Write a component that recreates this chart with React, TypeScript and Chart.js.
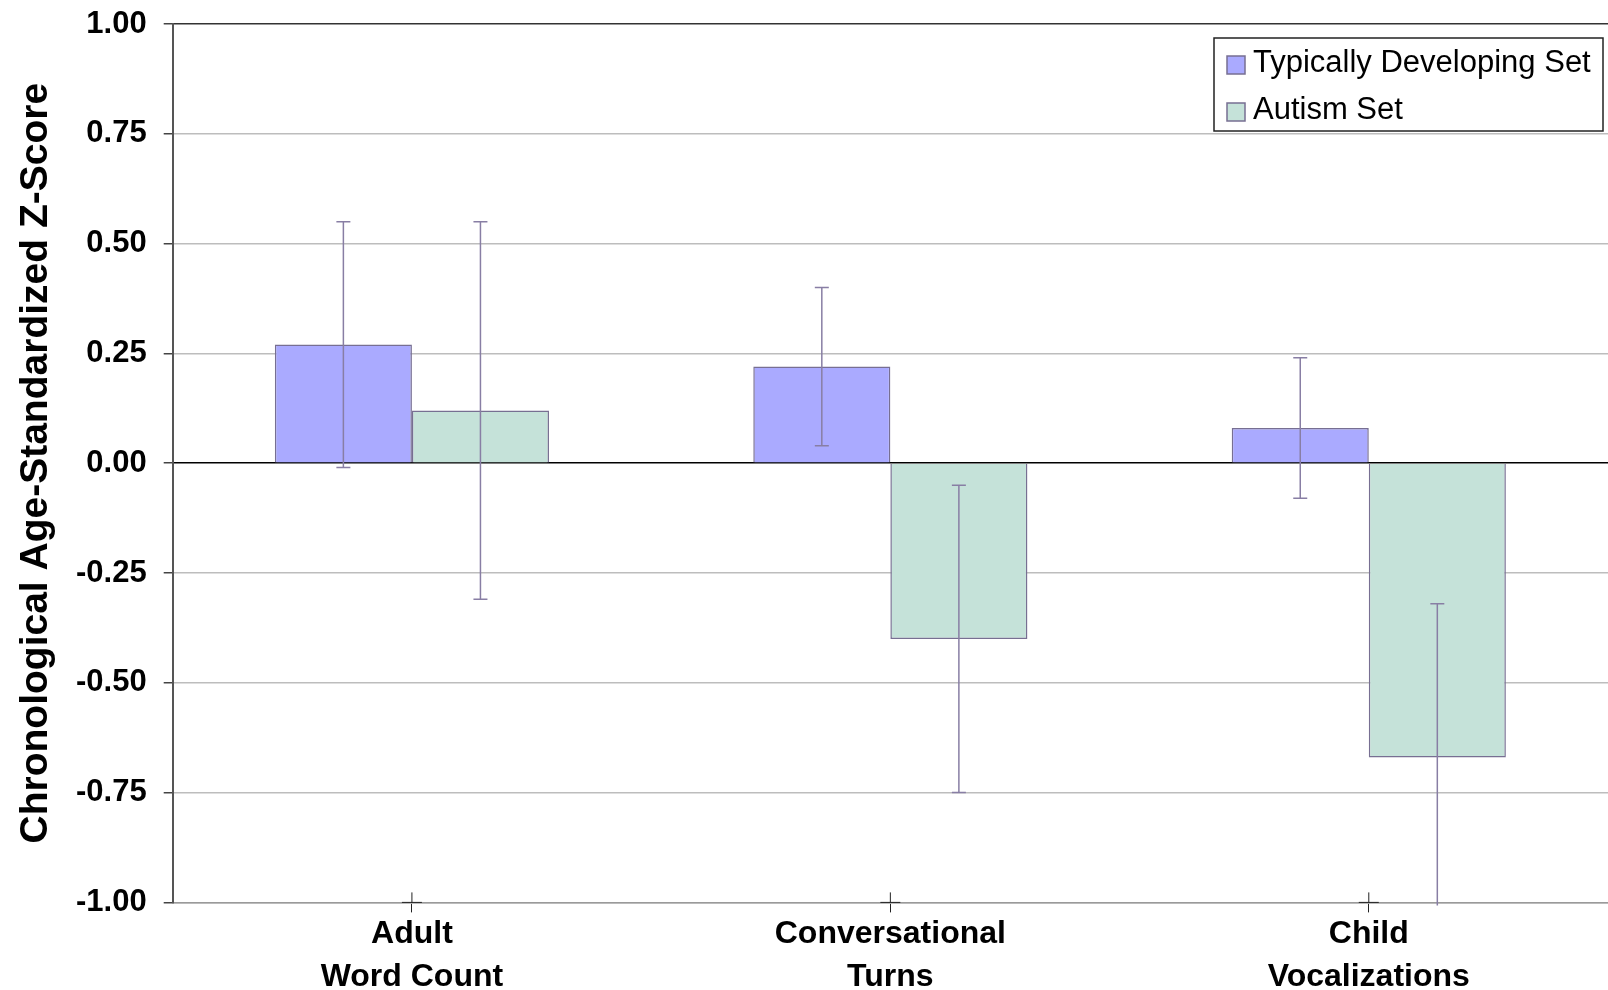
import React, { useEffect, useRef } from "react";
import { Chart, registerables } from "chart.js";

Chart.register(...registerables);

const categories = [
  ["Adult", "Word Count"],
  ["Conversational", "Turns"],
  ["Child", "Vocalizations"],
];
const seriesLabels = ["Typically Developing Set", "Autism Set"];
const tdValues = [0.27, 0.22, 0.08];
const tdErrors = [0.28, 0.18, 0.16];
const autismValues = [0.12, -0.4, -0.67];
const autismErrors = [0.43, 0.35, 0.35];
const yTickValues = [-1, -0.75, -0.5, -0.25, 0, 0.25, 0.5, 0.75, 1];
const yTitle = "Chronological Age-Standardized Z-Score";

const FONT = "'Liberation Sans', Arial, Helvetica, sans-serif";
const TD_FILL = "#AAAAFF";
const AUT_FILL = "#C5E2D9";
const BAR_BORDER = "#776F92";
const ERR_COLOR = "#887EA4";

const errorBarPlugin = {
  id: "errorBars",
  afterDatasetsDraw(chart: any) {
    const { ctx, chartArea, scales } = chart;
    const y = scales.y;
    ctx.save();
    ctx.beginPath();
    ctx.rect(
      chartArea.left,
      chartArea.top - 2,
      chartArea.right - chartArea.left,
      chartArea.bottom - chartArea.top + 5
    );
    ctx.clip();
    ctx.strokeStyle = ERR_COLOR;
    ctx.lineWidth = 1.5;
    chart.data.datasets.forEach((ds: any, i: number) => {
      const meta = chart.getDatasetMeta(i);
      meta.data.forEach((bar: any, j: number) => {
        const v = ds.data[j];
        const e = ds.errors[j];
        const x = bar.x;
        const yTop = y.getPixelForValue(v + e);
        const yBot = y.getPixelForValue(v - e);
        ctx.beginPath();
        ctx.moveTo(x, yTop);
        ctx.lineTo(x, yBot);
        ctx.moveTo(x - 7, yTop);
        ctx.lineTo(x + 7, yTop);
        ctx.moveTo(x - 7, yBot);
        ctx.lineTo(x + 7, yBot);
        ctx.stroke();
      });
    });
    ctx.restore();
  },
  afterDraw(chart: any) {
    const { ctx, chartArea, scales } = chart;
    const xs = scales.x;
    // cross-shaped category tick marks (upper half + dark horizontal stub)
    ctx.save();
    ctx.strokeStyle = "#222";
    ctx.lineWidth = 1;
    xs.ticks.forEach((_t: any, i: number) => {
      const px = xs.getPixelForTick(i);
      ctx.beginPath();
      ctx.moveTo(px, chartArea.bottom - 10);
      ctx.lineTo(px, chartArea.bottom);
      ctx.moveTo(px - 10, chartArea.bottom);
      ctx.lineTo(px + 10, chartArea.bottom);
      ctx.stroke();
    });
    ctx.restore();

    // boxed legend, top-right inside the plot area
    const boxRight = chartArea.right - 5;
    const boxTop = chartArea.top + 14;
    const boxW = 389;
    const boxH = 93;
    const boxLeft = boxRight - boxW;
    ctx.save();
    ctx.fillStyle = "#FFFFFF";
    ctx.fillRect(boxLeft, boxTop, boxW, boxH);
    ctx.strokeStyle = "#222";
    ctx.lineWidth = 1.5;
    ctx.strokeRect(boxLeft, boxTop, boxW, boxH);
    ctx.font = `31px ${FONT}`;
    ctx.textBaseline = "middle";
    ctx.textAlign = "left";
    chart.data.datasets.forEach((ds: any, i: number) => {
      const cy = boxTop + 27 + i * 47;
      ctx.fillStyle = ds.backgroundColor;
      ctx.fillRect(boxLeft + 13, cy - 9, 18, 18);
      ctx.strokeStyle = BAR_BORDER;
      ctx.lineWidth = 1.5;
      ctx.strokeRect(boxLeft + 13, cy - 9, 18, 18);
      ctx.fillStyle = "#000";
      ctx.fillText(ds.label, boxLeft + 39, cy - 2);
    });
    ctx.restore();
  },
};

export default function App() {
  const ref = useRef<HTMLCanvasElement | null>(null);

  useEffect(() => {
    if (!ref.current) return;
    const chart = new Chart(ref.current, {
      type: "bar",
      data: {
        labels: categories,
        datasets: [
          {
            label: seriesLabels[0],
            data: tdValues,
            errors: tdErrors,
            backgroundColor: TD_FILL,
            borderColor: BAR_BORDER,
            borderWidth: 1.5,
            categoryPercentage: 0.573,
            barPercentage: 1,
          } as any,
          {
            label: seriesLabels[1],
            data: autismValues,
            errors: autismErrors,
            backgroundColor: AUT_FILL,
            borderColor: BAR_BORDER,
            borderWidth: 1.5,
            categoryPercentage: 0.573,
            barPercentage: 1,
          } as any,
        ],
      },
      options: {
        responsive: false,
        animation: false,
        layout: { padding: { top: 24, right: 0, left: 0, bottom: 0 } },
        plugins: {
          legend: { display: false },
          tooltip: { enabled: false },
        },
        scales: {
          x: {
            afterFit(scale: any) {
              scale.height = 87.6;
              scale.paddingLeft = 0;
              scale.paddingRight = 0;
              scale.paddingTop = 0;
              scale.paddingBottom = 0;
            },
            grid: {
              display: true,
              offset: false,
              drawOnChartArea: false,
              drawTicks: true,
              tickLength: 10,
              color: "#222",
              lineWidth: 1,
            },
            border: { display: true, color: "#9A9A9A", width: 1.5 },
            ticks: {
              color: "#000",
              font: { family: FONT, size: 32, weight: "bold", lineHeight: 1.32 },
              padding: 1,
              maxRotation: 0,
              autoSkip: false,
            },
          },
          y: {
            min: -1,
            max: 1,
            afterFit(scale: any) {
              scale.width = 172.7;
              scale.paddingTop = 0;
              scale.paddingBottom = 0;
              scale.paddingLeft = 0;
              scale.paddingRight = 0;
            },
            afterBuildTicks(scale: any) {
              scale.ticks = yTickValues.map((v) => ({ value: v }));
            },
            grid: {
              color: (c: any) =>
                c.tick && c.tick.value === 0
                  ? "#000"
                  : c.tick && c.tick.value === 1
                  ? "#333"
                  : "#BDBDBD",
              lineWidth: 1.5,
              drawTicks: true,
              tickLength: 9,
              tickColor: "#444",
            },
            border: { display: true, color: "#555", width: 2 },
            ticks: {
              color: "#000",
              font: { family: FONT, size: 31, weight: "bold" },
              padding: 17,
              callback: (v: any) => Number(v).toFixed(2),
            },
            title: {
              display: true,
              text: yTitle,
              color: "#000",
              font: { family: FONT, size: 39, weight: "bold" },
              padding: { top: 13, bottom: 0 },
            },
          },
        },
      },
      plugins: [errorBarPlugin],
    });
    return () => chart.destroy();
  }, []);

  return (
    <div style={{ position: "absolute", left: 0, top: 0, width: 1608, height: 990, background: "#fff" }}>
      <canvas ref={ref} width={1608} height={990} style={{ display: "block" }} />
    </div>
  );
}
